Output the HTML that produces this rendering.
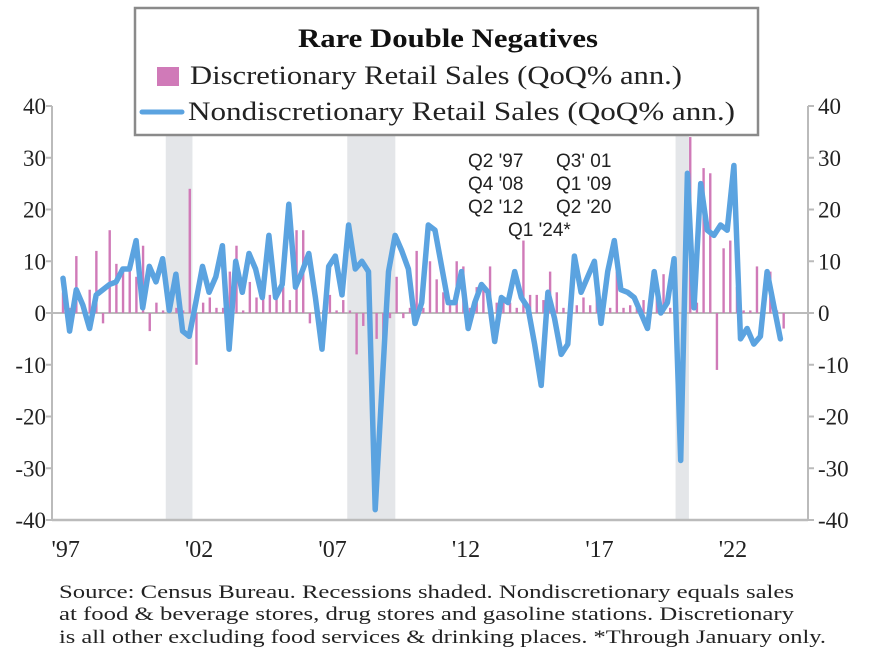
<!DOCTYPE html>
<html><head><meta charset="utf-8"><style>
html,body{margin:0;padding:0;background:#fff;}
svg{display:block;}
</style></head><body>
<svg id="chart" width="880" height="661" viewBox="0 0 880 661" xmlns="http://www.w3.org/2000/svg" font-family="'Liberation Serif', serif">
<g id="rec"></g>
<g id="axes"></g>
<g id="bars"></g>
<g id="lineg"></g>
<g font-family="'Liberation Sans', sans-serif" font-size="19" fill="#222">
<text x="468" y="167">Q2 '97</text>
<text x="556" y="167">Q3' 01</text>
<text x="468" y="190">Q4 '08</text>
<text x="556" y="190">Q1 '09</text>
<text x="468" y="213">Q2 '12</text>
<text x="556" y="213">Q2 '20</text>
<text x="508" y="236">Q1 '24*</text>
</g>
<g>
<rect x="135" y="8" width="623" height="127" fill="#fff" stroke="#8a8a8a" stroke-width="2.5"/>
<text x="298" y="47" font-size="26" font-weight="bold" fill="#111" textLength="300" lengthAdjust="spacingAndGlyphs">Rare Double Negatives</text>
<rect x="157" y="67" width="22" height="19" fill="#d07ab8"/>
<text x="190" y="84" font-size="26" fill="#222" textLength="492" lengthAdjust="spacingAndGlyphs">Discretionary Retail Sales (QoQ% ann.)</text>
<line x1="142" y1="112" x2="182" y2="112" stroke="#5ba3e0" stroke-width="5" stroke-linecap="round"/>
<text x="188" y="120" font-size="26" fill="#222" textLength="547" lengthAdjust="spacingAndGlyphs">Nondiscretionary Retail Sales (QoQ% ann.)</text>
</g>
<g font-size="19" fill="#222">
<text x="59" y="598" textLength="735" lengthAdjust="spacingAndGlyphs">Source: Census Bureau. Recessions shaded. Nondiscretionary equals sales</text>
<text x="59" y="620" textLength="735" lengthAdjust="spacingAndGlyphs">at food &amp; beverage stores, drug stores and gasoline stations. Discretionary</text>
<text x="59" y="643" textLength="767" lengthAdjust="spacingAndGlyphs">is all other excluding food services &amp; drinking places. *Through January only.</text>
</g>
</svg>
<script>
const yTicks = [40,30,20,10,0,-10,-20,-30,-40];
const xLabels = ["'97","'02","'07","'12","'17","'22"];
const xLabelYears = [1997,2002,2007,2012,2017,2022];
const recessions = [[2000.85,2001.85],[2007.65,2009.45],[2019.95,2020.45]];
const nondisc = [6.7,-3.5,4.5,1.5,-3,3.5,4.5,5.5,6,8.5,8.5,14,1,9,6,10.5,0.5,7.5,-3.5,-4.5,2,9,4,7,13,-7,10,4,11.5,8.5,3,15,3,5.5,21,5,8,11.5,3,-7,9,11,3.5,17,8.5,10,8,-38,-15,8,15,12,8.5,-2,2,17,16,9,2,2,8,-3,2,5.5,4,-5.5,3,2,8,3,1,-6,-14,4,-1,-8,-6,11,4,7,10,-2,8,14,4.5,4,3,0,-3,8,0,2,10.5,-28.5,27,1,25,16,15,17,16,28.5,-5,-3,-6,-4.5,8,1.5,-5];
const disc = [4,1,11,1,4.5,12,-2,16,9.5,8,8.5,7,13,-3.5,2,0.5,0.5,1,0.5,24,-10,2,3,1,1,8,13,0.5,6,3,3,3.5,3,5,2.5,16,16,-2,1,0.5,3.5,0.5,2.5,0.5,-8,-2.5,-10,-5,-5.5,-1,7,-1,1,12,1,10,6.5,4,2,10,9,1,5,5.5,9,2,3,2,1,14,3.5,3.5,2.5,8,4,1,3,1.5,3,1.5,4,1,1,8,1,1.5,1,2.5,1,6,7.5,1,-14,-5,34,2,28,27,-11,12.5,14,5,0.5,0.5,9,0.5,8,0.5,-3];

const NS='http://www.w3.org/2000/svg';
const X0=52, X1=808, YT=106, YB=520;
const xq = i => 63 + i*(787-63)/108.5;
const xy = yr => xq((yr-1997)*4);
const xl = i => 63 + i*(787-63)/109;
const yv = v => 313 - v*(YB-313)/40;
function mk(tag, attrs, parent){const e=document.createElementNS(NS,tag);for(const k in attrs)e.setAttribute(k,attrs[k]);parent.appendChild(e);return e;}

const rec=document.getElementById('rec');
recessions.forEach(r=>{
  const e=mk('rect',{x:xy(r[0]),y:YT-20,width:xy(r[1])-xy(r[0]),height:YB-YT+20,fill:'#e4e6e9'},rec);
  
  
});

const ax=document.getElementById('axes');
let e=mk('line',{x1:X0,y1:YT,x2:X0,y2:YB,stroke:'#bbb','stroke-width':2},ax);


e=mk('line',{x1:X1,y1:YT,x2:X1,y2:YB,stroke:'#bbb','stroke-width':2},ax);


e=mk('line',{x1:X0,y1:YB,x2:X1,y2:YB,stroke:'#bbb','stroke-width':2.5},ax);


e=mk('line',{x1:X0,y1:yv(0),x2:X1,y2:yv(0),stroke:'#bbb','stroke-width':2},ax);


yTicks.forEach(t=>{
  const y=yv(t);
  mk('line',{x1:X0-6,y1:y,x2:X0,y2:y,stroke:'#bbb','stroke-width':2},ax);
  mk('line',{x1:X1,y1:y,x2:X1+6,y2:y,stroke:'#bbb','stroke-width':2},ax);
  let l=mk('text',{x:X0-6,y:y+8,'text-anchor':'end','font-size':23,fill:'#222'},ax);
  l.textContent=t;
  
  
  l=mk('text',{x:X1+10,y:y+8,'font-size':23,fill:'#222'},ax);
  l.textContent=t;
  
  
});
xLabels.forEach((lab,k)=>{
  const x=xy(xLabelYears[k]+0.1);
  const l=mk('text',{x:x,y:557,'text-anchor':'middle','font-size':24,fill:'#222'},ax);
  l.textContent=lab;
  
  
});

const bg=document.getElementById('bars');
disc.forEach((v,i)=>{
  const y0=yv(0), y1=yv(v);
  const b=mk('rect',{x:xq(i)-1.2,y:Math.min(y0,y1),width:2.4,height:Math.abs(y1-y0),fill:'#d07ab8'},bg);
  
  
});

const lg=document.getElementById('lineg');
const pts=nondisc.map((v,i)=>xl(i).toFixed(1)+','+yv(v).toFixed(1)).join(' ');
const pl=mk('polyline',{points:pts,fill:'none',stroke:'#5ba3e0','stroke-width':5.5,'stroke-linejoin':'round','stroke-linecap':'round'},lg);


</script>
</body></html>
